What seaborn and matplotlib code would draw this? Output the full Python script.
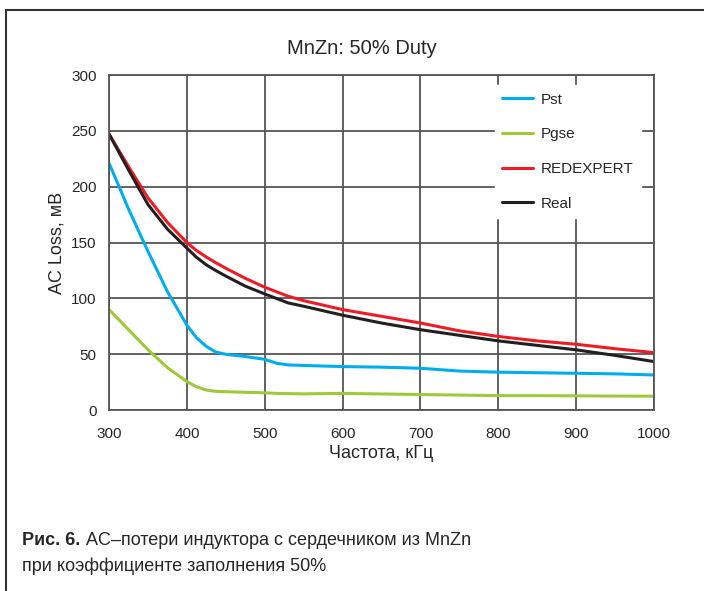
import pandas as pd
import matplotlib.pyplot as plt
import seaborn as sns

freq = [300, 325, 350, 375, 400, 412, 425, 437, 450, 475, 500, 515, 530, 550, 600, 650, 700, 750, 800, 850, 900, 950, 1000]
pst = [221, 180, 142, 106, 76, 65, 57, 52, 50, 48, 45.5, 42, 40.5, 40, 39, 38.5, 37.5, 35, 34, 33.5, 33, 32.5, 31.5]
pgse = [90, 72, 54, 38, 25.5, 21, 18, 16.8, 16.5, 16, 15.5, 15, 14.8, 14.6, 15, 14.5, 14, 13.5, 13, 13, 12.8, 12.6, 12.5]
redexpert = [247, 218, 190, 168, 150, 143, 137, 132, 127, 118, 110, 106, 102, 98, 90, 84, 78, 71, 66, 62, 59, 55, 51.5]
real = [247, 215, 184, 162, 145, 137, 130, 125, 120, 111, 104, 100, 96, 93, 85, 78, 72, 67, 62, 58, 54, 49, 43.5]

series = ["Pst", "Pgse", "REDEXPERT", "Real"]
colors = ["#00AEEF", "#9DC93B", "#ED1C24", "#231F20"]

df = pd.DataFrame({"Частота": freq, "Pst": pst, "Pgse": pgse, "REDEXPERT": redexpert, "Real": real})
df = df.melt(id_vars="Частота", var_name="series", value_name="loss")

sns.set_style("white")
plt.rcParams["font.family"] = ["Liberation Sans", "DejaVu Sans"]

fig = plt.figure(figsize=(7.04, 5.91), dpi=100)
ax = fig.add_axes([0.155, 0.306, 0.774, 0.567])

sns.lineplot(data=df, x="Частота", y="loss", hue="series", hue_order=series,
             palette=colors, linewidth=2.2, ax=ax)

ax.set_xlim(300, 1000)
ax.set_ylim(0, 300)
ax.set_xticks(range(300, 1001, 100))
ax.set_yticks(range(0, 301, 50))
ax.grid(True, color="#555555", linewidth=1.3)
ax.set_axisbelow(True)
for s in ax.spines.values():
    s.set_color("#555555")
    s.set_linewidth(1.3)
ax.tick_params(axis="y", length=0, labelsize=11, pad=9)
ax.tick_params(axis="x", length=0, labelsize=11, pad=12)
ax.set_xlabel("Частота, кГц", fontsize=13, labelpad=3)
ax.set_ylabel("AC Loss, мВ", fontsize=13, labelpad=4)

leg = ax.legend(loc="upper right", bbox_to_anchor=(0.99, 0.993), frameon=True,
                fontsize=11, handlelength=2.0, handletextpad=0.5,
                labelspacing=1.35, borderpad=0.5)
leg.get_frame().set_facecolor("white")
leg.get_frame().set_edgecolor("white")
leg.get_frame().set_alpha(1)
leg.get_frame().set_boxstyle("square", pad=0)

fig.text(0.514, 0.918, "MnZn: 50% Duty", ha="center", va="center", fontsize=14.5)

# frame around figure
fig.add_artist(plt.Line2D([0.009, 0.009], [0.0, 0.983], color="#333333", linewidth=1.5))
fig.add_artist(plt.Line2D([0.009, 1.0], [0.983, 0.983], color="#333333", linewidth=1.5))

cap = ["Liberation Sans Narrow", "Liberation Sans", "DejaVu Sans"]
fig.text(0.031, 0.085, "Рис. 6.", ha="left", va="center", fontsize=13,
         fontweight="bold", family=cap)
fig.text(0.122, 0.085, "AC–потери индуктора с сердечником из MnZn", ha="left",
         va="center", fontsize=13, family=cap)
fig.text(0.031, 0.042, "при коэффициенте заполнения 50%", ha="left", va="center",
         fontsize=13, family=cap)

fig.savefig("out.png", dpi=100)
